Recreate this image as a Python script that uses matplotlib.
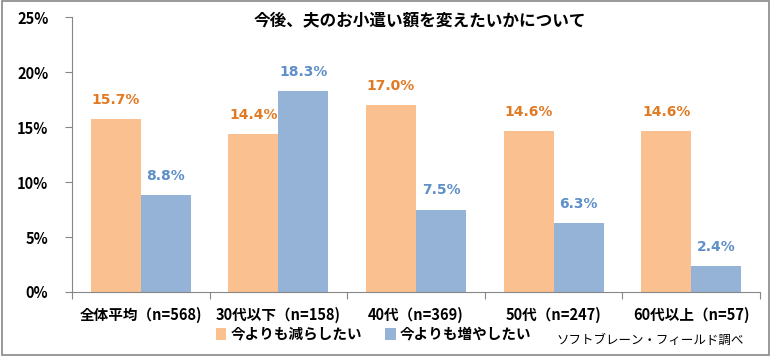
import numpy as np
import matplotlib
matplotlib.use("Agg")
import matplotlib.pyplot as plt
from matplotlib.patches import Rectangle

plt.rcParams['font.family'] = ['Noto Sans CJK JP', 'DejaVu Sans']

# データ
categories = ["全体平均（n=568)", "30代以下（n=158)", "40代（n=369)", "50代（n=247)", "60代以上（n=57)"]
decrease = [15.7, 14.4, 17.0, 14.6, 14.6]
increase = [8.8, 18.3, 7.5, 6.3, 2.4]
series_names = ["今よりも減らしたい", "今よりも増やしたい"]

c_dec, c_inc = "#FAC090", "#95B3D7"
c_dec_lbl, c_inc_lbl = "#E07A24", "#5E8FC8"

fig = plt.figure(figsize=(7.71, 3.56), dpi=100)
ax = fig.add_axes([0.0934, 0.1798, 0.8923, 0.7722])

x = np.arange(len(categories))
w = 0.364
ax.bar(x - w / 2, decrease, w, color=c_dec, label=series_names[0])
ax.bar(x + w / 2, increase, w, color=c_inc, label=series_names[1])

for xi, v in zip(x - w / 2, decrease):
    ax.text(xi, v + 1.1, f"{v:.1f}%", ha="center", va="bottom", color=c_dec_lbl,
            fontsize=10, fontweight="bold", family="DejaVu Sans")
for xi, v in zip(x + w / 2, increase):
    ax.text(xi, v + 1.1, f"{v:.1f}%", ha="center", va="bottom", color=c_inc_lbl,
            fontsize=10, fontweight="bold", family="DejaVu Sans")

ax.set_xlim(-0.5, len(categories) - 0.5)
ax.set_ylim(0, 25)
ax.set_yticks(range(0, 26, 5))
ax.set_yticklabels([f"{t}%" for t in range(0, 26, 5)], fontsize=10.5, fontweight="bold")
ax.tick_params(axis="y", length=5, color="#868686", pad=12)

ax.set_xticks(np.arange(-0.5, len(categories), 1.0))
ax.set_xticklabels([])
ax.tick_params(axis="x", length=5, color="#868686")
for xi, lab in zip(x, categories):
    ax.text(xi, -1.35, lab, ha="center", va="top", fontsize=10.5, fontweight="bold")

for s in ["top", "right"]:
    ax.spines[s].set_visible(False)
for s in ["left", "bottom"]:
    ax.spines[s].set_color("#868686")

fig.text(0.545, 0.943, "今後、夫のお小遣い額を変えたいかについて", ha="center", va="center",
         fontsize=12, fontweight="bold")

# 凡例
ax.legend(loc="upper left", bbox_to_anchor=(0.19, -0.075), ncol=2, frameon=False,
          handlelength=0.7, handleheight=0.9, columnspacing=1.6, handletextpad=0.3,
          prop={"size": 10.5, "weight": "bold"})

fig.text(0.965, 0.045, "ソフトブレーン・フィールド調べ", ha="right", va="center", fontsize=9)

fig.add_artist(Rectangle((0.002, 0.003), 0.996, 0.994, transform=fig.transFigure,
                         fill=False, edgecolor="#888888", linewidth=1.2))

fig.savefig("out.png", dpi=100)
